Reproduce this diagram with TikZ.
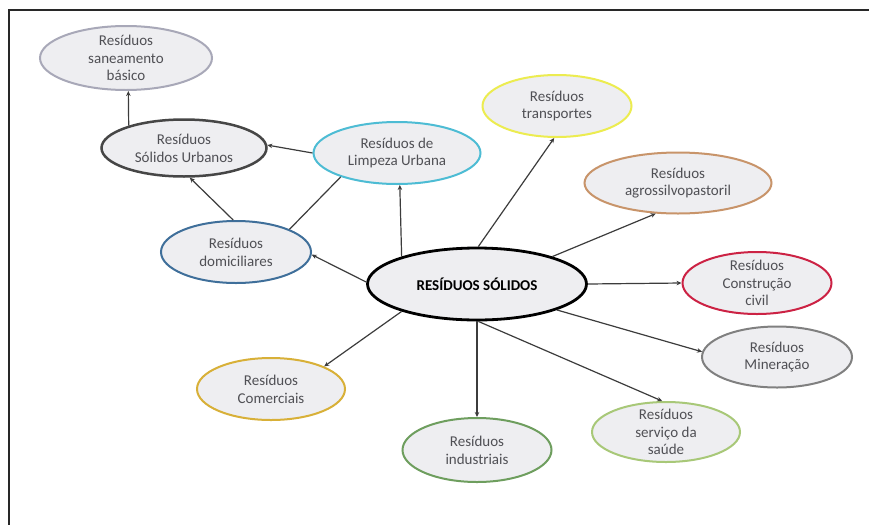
\documentclass[tikz,border=0pt]{standalone}
\usepackage{fontspec}
\setmainfont{Carlito}
\usetikzlibrary{arrows.meta,shapes.geometric}
\definecolor{ellfill}{RGB}{238,238,241}
\definecolor{txtgray}{RGB}{80,80,85}
\definecolor{linegray}{RGB}{60,60,60}
\definecolor{framecol}{RGB}{40,40,40}
\definecolor{cSan}{RGB}{168,168,184}
\definecolor{cSU}{RGB}{70,70,70}
\definecolor{cLimp}{RGB}{77,188,212}
\definecolor{cTrans}{RGB}{236,236,80}
\definecolor{cAgro}{RGB}{200,148,106}
\definecolor{cCons}{RGB}{204,34,68}
\definecolor{cMin}{RGB}{128,128,128}
\definecolor{cSaude}{RGB}{168,200,120}
\definecolor{cInd}{RGB}{110,158,94}
\definecolor{cCom}{RGB}{216,176,56}
\definecolor{cDom}{RGB}{63,111,154}
\begin{document}
\begin{tikzpicture}[x=1pt,y=-1pt,
  ell/.style={ellipse, draw, fill=ellfill, line width=2pt, inner sep=0pt},
  txt/.style={align=center, font=\fontsize{15}{17.7}\selectfont, text=txtgray, inner sep=0pt},
  arr/.style={draw=linegray, line width=1.2pt, -{Stealth[length=5pt,width=4.5pt]}},
  ln/.style={draw=linegray, line width=1.2pt}]
\fill[white] (0,0) rectangle (869,525);
\useasboundingbox (0,0) rectangle (869,525);
\draw[line width=2pt, framecol] (869,10) -- (9,10) -- (9,525);

\node[ell, draw=cSan, minimum width=172pt, minimum height=64pt,
  label={[txt]center:Resíduos\\saneamento\\básico}] (san) at (126,58) {};
\node[ell, draw=cSU, line width=2.5pt, minimum width=165pt, minimum height=57pt,
  label={[txt]center:Resíduos\\Sólidos Urbanos}] (su) at (184,148) {};
\node[ell, draw=cLimp, minimum width=167pt, minimum height=62pt,
  label={[txt]center:Resíduos de\\Limpeza Urbana}] (limp) at (397,153) {};
\node[ell, draw=cDom, minimum width=150pt, minimum height=62pt,
  label={[txt]center:Resíduos\\domiciliares}] (dom) at (236,252) {};
\node[ell, draw=cTrans, minimum width=149pt, minimum height=62pt,
  label={[txt]center:Resíduos\\transportes}] (trans) at (557,106) {};
\node[ell, draw=cAgro, minimum width=187pt, minimum height=61pt,
  label={[txt]center:Resíduos\\agrossilvopastoril}] (agro) at (678,183) {};
\node[ell, draw=cCons, minimum width=149pt, minimum height=62pt,
  label={[txt]center:Resíduos\\Construção\\civil}] (cons) at (757,283) {};
\node[ell, draw=cMin, minimum width=150pt, minimum height=61pt,
  label={[txt]center:Resíduos\\Mineração}] (min) at (777,357) {};
\node[ell, draw=cSaude, minimum width=148pt, minimum height=60pt,
  label={[txt]center:Resíduos\\serviço da\\saúde}] (saude) at (666,432) {};
\node[ell, draw=cInd, minimum width=149pt, minimum height=64pt,
  label={[txt]center:Resíduos\\industriais}] (ind) at (477,450) {};
\node[ell, draw=cCom, minimum width=148pt, minimum height=62pt,
  label={[txt]center:Resíduos\\Comerciais}] (com) at (271,389) {};
\node[ell, draw=black, line width=2.8pt, minimum width=219pt, minimum height=72pt,
  label={[inner sep=0pt, font=\fontsize{15}{17}\bfseries\selectfont, text=black]center:RESÍDUOS SÓLIDOS}] (rs) at (477,284) {};

\draw[arr] (su.158) -- (san.274);
\draw[arr] (limp.180) -- (su.2);
\draw[arr] (dom.95) -- (su.281);
\draw[ln] (dom.23) -- (limp.203);
\draw[arr] (rs.160) -- (limp.275);
\draw[arr] (rs.179) -- (dom.358);
\draw[arr] (rs.88) -- (trans.265);
\draw[arr] (rs.20) -- (agro.234);
\draw[arr] (rs.east) -- (cons.west);
\draw[arr] (rs.342) -- (min.176);
\draw[arr] (rs.272) -- (saude.97);
\draw[arr] (rs.south) -- (ind.north);
\draw[arr] (rs.200) -- (com.23);
\end{tikzpicture}
\end{document}
